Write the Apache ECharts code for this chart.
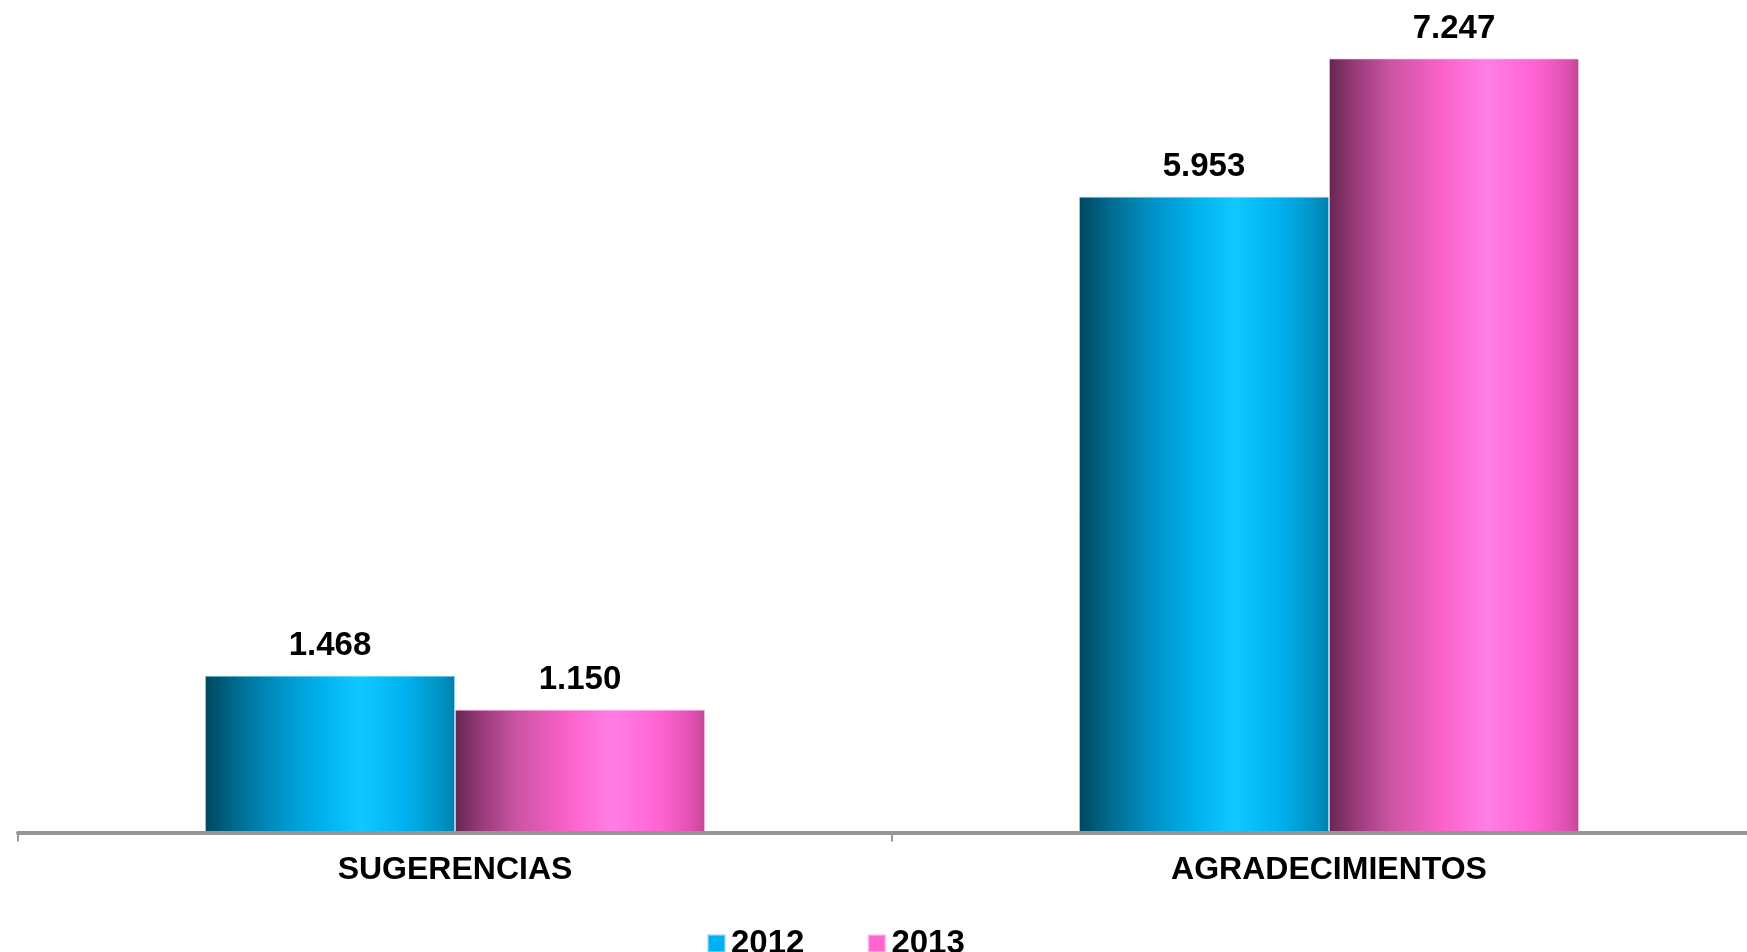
<!DOCTYPE html>
<html>
<head>
<meta charset="utf-8">
<script src="https://cdn.jsdelivr.net/npm/echarts@6/dist/echarts.min.js"></script>
<style>
  html, body { margin: 0; padding: 0; background: #fff; }
  #grafico { width: 1747px; height: 952px; }
</style>
</head>
<body>
<div id="grafico"></div>
<script>
  // datos
  var categorias = ['SUGERENCIAS', 'AGRADECIMIENTOS'];
  var anios = ['2012', '2013'];
  var valores2012 = [1.468, 5.953];
  var valores2013 = [1.150, 7.247];

  var chart = echarts.init(document.getElementById('grafico'));

  // degradados horizontales tipo cilindro
  var degradadoAzul = new echarts.graphic.LinearGradient(0, 0, 1, 0, [
    { offset: 0, color: '#00465e' },
    { offset: 0.12, color: '#006a8e' },
    { offset: 0.3, color: '#0093c8' },
    { offset: 0.47, color: '#00b2ec' },
    { offset: 0.62, color: '#10c8ff' },
    { offset: 0.8, color: '#00b2f0' },
    { offset: 0.94, color: '#0094c4' },
    { offset: 1, color: '#0080ad' }
  ]);
  var degradadoRosa = new echarts.graphic.LinearGradient(0, 0, 1, 0, [
    { offset: 0, color: '#662650' },
    { offset: 0.1, color: '#963a78' },
    { offset: 0.25, color: '#cc54a4' },
    { offset: 0.45, color: '#fa62c8' },
    { offset: 0.63, color: '#ff7ee6' },
    { offset: 0.82, color: '#ff64d2' },
    { offset: 0.95, color: '#e050b2' },
    { offset: 1, color: '#c04894' }
  ]);

  var etiqueta = {
    show: true,
    position: 'top',
    distance: 13,
    color: '#000',
    fontFamily: 'Liberation Sans, Arial, sans-serif',
    fontWeight: 'bold',
    fontSize: 33,
    formatter: function (p) { return p.value.toFixed(3); }
  };

  var option = {
    animation: false,
    // el eje sigue un poco más allá del borde derecho
    grid: { left: 18, width: 1748, top: 0, bottom: 119.5, outerBoundsMode: 'none' },
    legend: {
      data: [
        { name: anios[0], itemStyle: { color: '#00b0f0' } },
        { name: anios[1], itemStyle: { color: '#ff66cc' } }
      ],
      left: 702,
      top: 922,
      icon: 'rect',
      itemWidth: 17,
      itemHeight: 17,
      itemGap: 63,
      textStyle: {
        color: '#000',
        fontFamily: 'Liberation Sans, Arial, sans-serif',
        fontWeight: 'bold',
        fontSize: 33,
        padding: [0, 0, 0, 1]
      }
    },
    xAxis: {
      type: 'category',
      data: categorias,
      axisLine: { lineStyle: { color: '#969696', width: 4 } },
      axisTick: { show: true, length: 9, lineStyle: { color: '#999', width: 2 } },
      axisLabel: {
        margin: 22,
        color: '#000',
        fontFamily: 'Liberation Sans, Arial, sans-serif',
        fontWeight: 'bold',
        fontSize: 32
      },
      z: 5
    },
    yAxis: {
      type: 'value',
      min: 0,
      max: 7.795,
      show: false,
      splitLine: { show: false }
    },
    series: [
      {
        name: anios[0],
        type: 'bar',
        data: valores2012,
        barWidth: 250,
        barGap: '0%',
        itemStyle: { color: degradadoAzul, borderColor: 'rgba(150,220,255,0.6)', borderWidth: 1 },
        label: etiqueta
      },
      {
        name: anios[1],
        type: 'bar',
        data: valores2013,
        barWidth: 250,
        barGap: '0%',
        itemStyle: { color: degradadoRosa, borderColor: 'rgba(255,190,240,0.6)', borderWidth: 1 },
        label: etiqueta
      }
    ]
  };

  chart.setOption(option);
</script>
</body>
</html>
